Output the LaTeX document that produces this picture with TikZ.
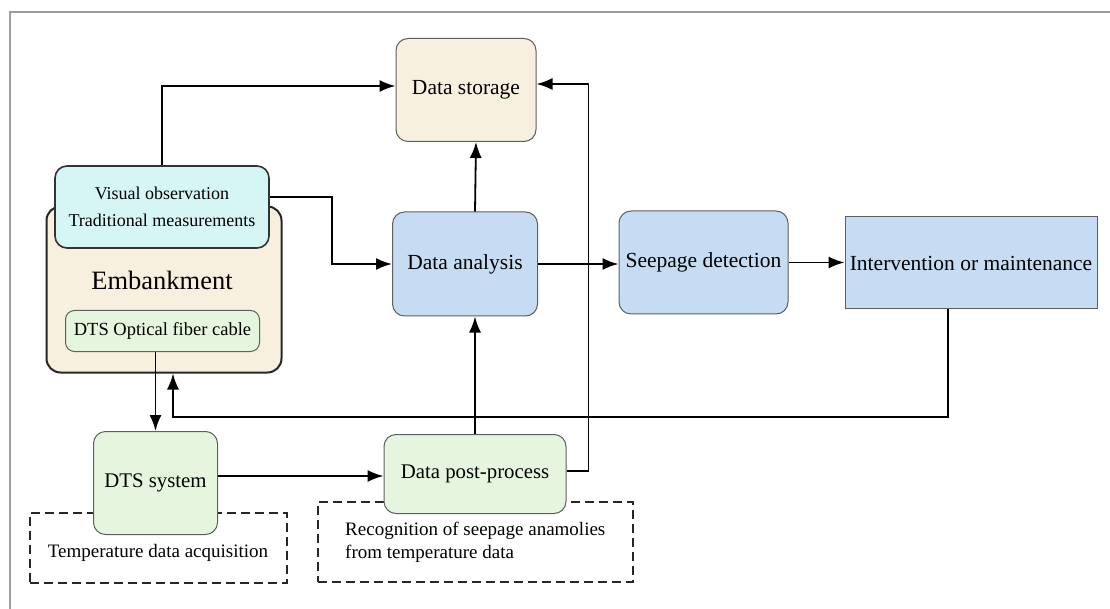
\documentclass[tikz,border=0pt]{standalone}
\usepackage{fontspec}
\setmainfont{Liberation Serif}
\usetikzlibrary{arrows.meta}

\definecolor{sand}{RGB}{247,240,222}
\definecolor{skyfill}{RGB}{197,220,242}
\definecolor{icefill}{RGB}{214,246,246}
\definecolor{mintfill}{RGB}{230,246,222}
\definecolor{edgegray}{RGB}{95,95,95}
\newcommand{\mainfs}{\fontsize{21.5}{26}\selectfont}
\newcommand{\midfs}{\fontsize{18}{27}\selectfont}
\newcommand{\greenfs}{\fontsize{20.8}{24}\selectfont}
\newcommand{\notefs}{\fontsize{19}{23.3}\selectfont}

\begin{document}
\begin{tikzpicture}[
  x=1pt,y=-1pt,
  box/.style={draw=edgegray,line width=1pt,rounded corners=12pt,align=center,inner sep=0pt},
  note/.style={draw=black!85,line width=2pt,dash pattern=on 9pt off 5pt,inner sep=0pt},
  link/.style={line width=1.8pt,-{Latex[length=16pt,width=12pt]}}
]
\useasboundingbox (0,0) rectangle (1110,609);
%% ─── Frame ───────────────────────────────────────────────────────────────────
\draw[black!38,line width=2pt] (10,609) -- (10,12) -- (1110,12);
%% ─── Dashed notes ────────────────────────────────────────────────────────────
\node[note,minimum width=257pt,minimum height=70pt] (acqbox) at (158,547.5) {};
\node[font=\notefs] (acqtext) at (158,553) {Temperature data acquisition};
\node[note,minimum width=315pt,minimum height=80pt] (recbox) at (475,541.7) {};
\node[font=\notefs,anchor=west,align=left] (rectext) at (341.7,542.3)
  {Recognition of seepage anamolies\\from temperature data};
%% ─── Embankment ──────────────────────────────────────────────────────────────
\node[draw=black!85,line width=2pt,fill=sand,rounded corners=14pt,
  minimum width=235pt,minimum height=166pt] (emb) at (164,289.5) {};
\node[font=\fontsize{26.5}{30}\selectfont] (embtext) at (162,280) {Embankment};
\node[box,fill=icefill,draw=black!80,line width=1.6pt,font=\midfs,
  minimum width=214pt,minimum height=82pt] (visual) at (162,207)
  {Visual observation\\Traditional measurements};
\node[box,fill=mintfill,rounded corners=9pt,font=\fontsize{18.5}{22}\selectfont,
  minimum width=194pt,minimum height=41pt] (cable) at (162.5,331) {DTS Optical fiber cable};
%% ─── Process boxes ───────────────────────────────────────────────────────────
\node[box,fill=sand,font=\mainfs,minimum width=140pt,minimum height=103pt] (store) at (466,90) {Data storage};
\node[box,fill=skyfill,font=\mainfs,minimum width=145pt,minimum height=104pt] (analysis) at (465,264) {Data analysis};
\node[box,fill=skyfill,font=\mainfs,minimum width=169pt,minimum height=103pt] (seep) at (703.5,262.5) {Seepage detection};
\node[box,fill=skyfill,sharp corners,font=\mainfs,minimum width=252pt,minimum height=92pt] (act) at (971,263) {Intervention or maintenance};
\node[box,fill=mintfill,font=\greenfs,minimum width=124pt,minimum height=103pt] (dts) at (155.5,483) {DTS system};
\node[box,fill=mintfill,font=\greenfs,minimum width=182pt,minimum height=79pt] (post) at (475,474) {Data post-process};
\coordinate (loop) at (0,417);
%% ─── Connectors ──────────────────────────────────────────────────────────────
\draw[link] (visual.north) |- ([yshift=4pt]store.west);
\draw[link] ([yshift=10pt]visual.east) -- ++(62,0) |- (analysis.west);
\draw[link] ([xshift=10pt]analysis.north) -- ([xshift=10pt]store.south);
\draw[link] (post.north) -- (post.north |- analysis.south);
\draw[link] ([yshift=3pt]post.east) -- ++(22,0) |- ([yshift=6pt]store.east);
\draw[link] (analysis.east) -- (analysis.east -| seep.west);
\draw[link] (seep.east) -- (seep.east -| act.west);
\draw[link] ([xshift=-23pt]act.south) -- ([xshift=-23pt]act.south |- loop) -| ([xshift=9pt]emb.south);
\draw[link] (dts.north |- cable.south) -- (dts.north);
\draw[link] ([yshift=7pt]dts.east) -- ([yshift=7pt]dts.east -| post.west);
\end{tikzpicture}
\end{document}
